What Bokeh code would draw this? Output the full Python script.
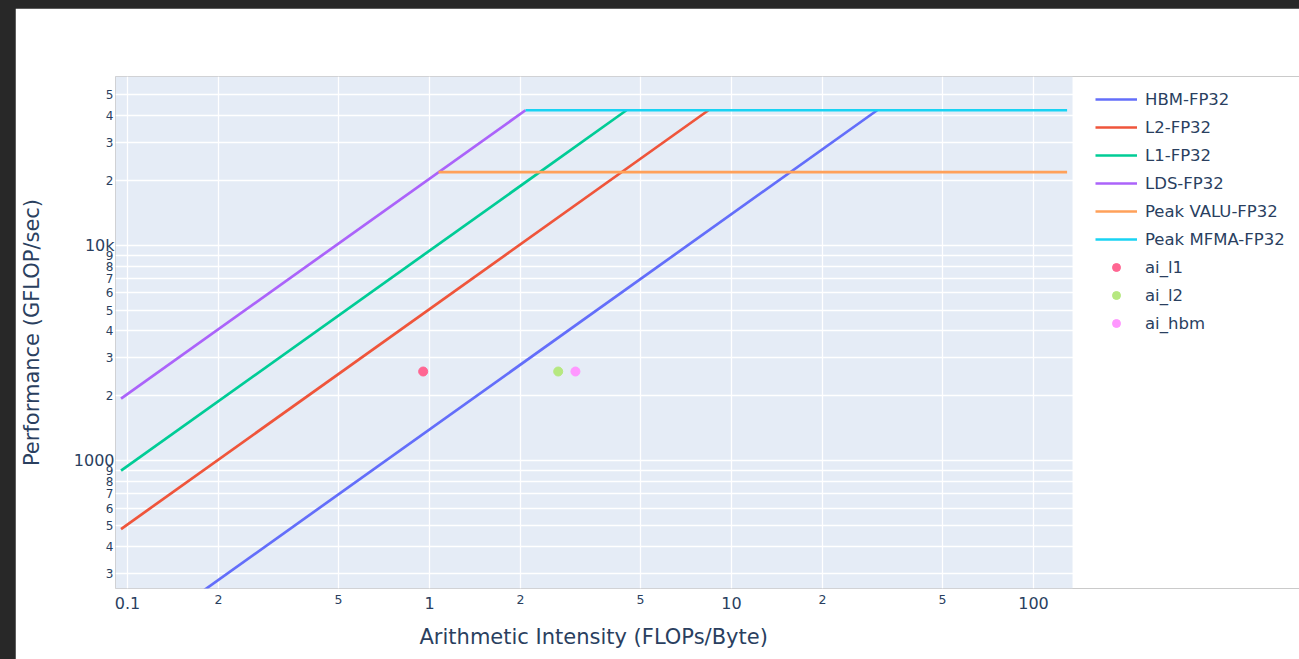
from bokeh.plotting import figure
from bokeh.layouts import column
from bokeh.models import (FixedTicker, Legend, LegendItem, Range1d, LogAxis,
                          BoxAnnotation, Title)
from bokeh.embed import file_html
from bokeh.resources import INLINE

# ---- data ----
hbm_x = [0.0952, 30.37]
hbm_y = [132.7, 42330]
l2_x = [0.0952, 8.39]
l2_y = [480.3, 42330]
l1_x = [0.0952, 4.49]
l1_y = [897.5, 42330]
lds_x = [0.0952, 2.079]
lds_y = [1938, 42330]
valu_x = [1.071, 129.2]
valu_y = [21860, 21860]
mfma_x = [2.079, 129.2]
mfma_y = [42330, 42330]

pt_names = ["ai_l1", "ai_l2", "ai_hbm"]
pt_x = [0.953, 2.668, 3.043]
pt_y = [2590, 2590, 2590]

x_ticks = [0.1, 0.2, 0.5, 1, 2, 5, 10, 20, 50, 100]
x_small = ["", "2", "5", "", "2", "5", "", "2", "5", ""]
x_big = ["0.1", "", "", "1", "", "", "10", "", "", "100"]

y_ticks = [300, 400, 500, 600, 700, 800, 900, 1000,
           2000, 3000, 4000, 5000, 6000, 7000, 8000, 9000, 10000,
           20000, 30000, 40000, 50000]
y_small = ["3", "4", "5", "6", "7", "8", "9", "",
           "2", "3", "4", "5", "6", "7", "8", "9", "",
           "2", "3", "4", "5"]
y_big = ["", "", "", "", "", "", "", "1000",
         "", "", "", "", "", "", "", "", "10k",
         "", "", "", ""]

# visible plot area (x) and y range; the frame continues to the right
# (white) so that the legend can sit beside the plot area
x_lo, x_plot_hi, x_frame_hi = 0.09127, 134.67, 760.0
y_lo, y_hi = 254.4, 60737

FONT = "DejaVu Sans"
TXT = "#2a3f5f"

p = figure(width=1284, height=651, x_axis_type="log", y_axis_type="log",
           x_range=Range1d(x_lo, x_frame_hi), y_range=Range1d(y_lo, y_hi),
           output_backend="svg", toolbar_location=None,
           min_border_left=100, min_border_right=0,
           min_border_top=68, min_border_bottom=67,
           background_fill_color="white", border_fill_color="white")
p.margin = (8, 0, 0, 15)
p.outline_line_color = None
p.outline_line_alpha = 0

# plot-area background
p.add_layout(BoxAnnotation(left=x_lo, right=x_plot_hi, fill_color="#E5ECF6",
                           fill_alpha=1.0, line_color=None, level="image"))


def style(ax, size):
    ax.axis_line_color = None
    ax.major_tick_line_color = None
    ax.minor_tick_line_color = None
    ax.major_tick_out = 0
    ax.major_tick_in = 0
    ax.minor_tick_out = 0
    ax.minor_tick_in = 0
    ax.major_label_text_font = FONT
    ax.major_label_text_font_size = size
    ax.major_label_text_color = TXT
    ax.axis_label_text_font = FONT
    ax.axis_label_text_font_size = "21px"
    ax.axis_label_text_font_style = "normal"
    ax.axis_label_text_color = TXT


# inner axes: small intermediate labels
xa = p.xaxis[0]
ya = p.yaxis[0]
style(xa, "12.5px")
style(ya, "12px")
xa.ticker = FixedTicker(ticks=x_ticks, minor_ticks=[])
xa.major_label_overrides = {t: s for t, s in zip(x_ticks, x_small)}
xa.major_label_standoff = 6
ya.ticker = FixedTicker(ticks=y_ticks, minor_ticks=[])
ya.major_label_overrides = {t: s for t, s in zip(y_ticks, y_small)}
ya.major_label_standoff = 2
ya.major_label_orientation = "horizontal"

# outer axes: decade labels (larger)
xb = LogAxis(ticker=FixedTicker(ticks=x_ticks, minor_ticks=[]))
style(xb, "16px")
xb.major_label_overrides = {t: s for t, s in zip(x_ticks, x_big)}
xb.major_label_standoff = -10
p.add_layout(xb, "below")

yb = LogAxis(ticker=FixedTicker(ticks=y_ticks, minor_ticks=[]))
style(yb, "16px")
yb.major_label_overrides = {t: s for t, s in zip(y_ticks, y_big)}
yb.major_label_standoff = -12
yb.major_label_orientation = "horizontal"
yb.axis_label = "Performance (GFLOP/sec)"
yb.axis_label_standoff = 27
p.add_layout(yb, "left")

# x-axis title, centred under the plot area
p.add_layout(Title(text="Arithmetic Intensity (FLOPs/Byte)", align="left",
                   offset=304, standoff=22, text_font=FONT,
                   text_font_size="21px", text_font_style="normal",
                   text_color=TXT), "below")

p.xgrid.grid_line_color = "white"
p.xgrid.grid_line_width = 1.3
p.ygrid.grid_line_color = "white"
p.ygrid.grid_line_width = 1.3

# lines
LW = 2.7
series = [
    ("HBM-FP32", hbm_x, hbm_y, "#636efa"),
    ("L2-FP32", l2_x, l2_y, "#EF553B"),
    ("L1-FP32", l1_x, l1_y, "#00cc96"),
    ("LDS-FP32", lds_x, lds_y, "#ab63fa"),
    ("Peak VALU-FP32", valu_x, valu_y, "#FFA15A"),
    ("Peak MFMA-FP32", mfma_x, mfma_y, "#19d3f3"),
]
items = []
for name, xs, ys, c in series:
    r = p.line(xs, ys, line_width=LW, line_color=c)
    items.append(LegendItem(label=name, renderers=[r]))

pt_colors = ["#FF6692", "#B6E880", "#FF97FF"]
for name, x, y, c in zip(pt_names, pt_x, pt_y, pt_colors):
    r = p.scatter([x], [y], size=9, fill_color=c, line_color=c)
    items.append(LegendItem(label=name, renderers=[r]))

legend = Legend(items=items, location=(980, 255),
                glyph_width=42, glyph_height=20, label_height=20,
                label_standoff=8, spacing=8, padding=0, margin=0,
                label_text_font=FONT, label_text_font_size="16.5px",
                label_text_color=TXT, border_line_color=None,
                background_fill_alpha=0)
p.add_layout(legend)

page = column(p, styles={"background-color": "#282828"})
open("out.html", "w").write(file_html(page, INLINE))
